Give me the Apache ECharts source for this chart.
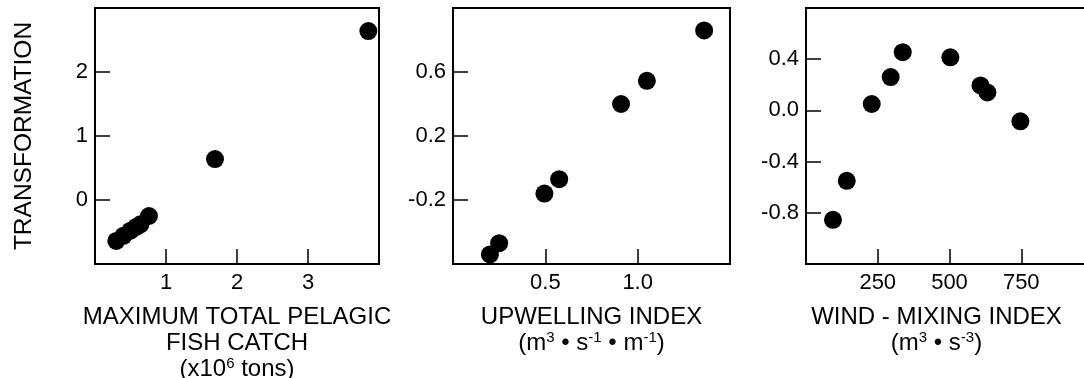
<!DOCTYPE html>
<html>
<head>
<meta charset="utf-8">
<script src="https://cdn.jsdelivr.net/npm/echarts@6/dist/echarts.min.js"></script>
<style>
  html, body { margin: 0; padding: 0; background: #fff; }
  #chart { width: 1084px; height: 378px; }
</style>
</head>
<body>
<div id="chart"></div>
<script>
// panel 1: maximum total pelagic fish catch (x10^6 tons)
var fishCatch = [0.30, 0.40, 0.50, 0.58, 0.64, 0.76, 1.69, 3.85];
var fishTrans = [-0.64, -0.56, -0.48, -0.42, -0.38, -0.25, 0.64, 2.64];
// panel 2: upwelling index
var upwelling = [0.20, 0.25, 0.495, 0.575, 0.91, 1.05, 1.36];
var upwellingTrans = [-0.54, -0.47, -0.16, -0.07, 0.40, 0.545, 0.86];
// panel 3: wind-mixing index
var windMixing = [94, 142, 229, 295, 337, 503, 608, 632, 747];
var windTrans = [-0.855, -0.55, 0.05, 0.26, 0.455, 0.415, 0.195, 0.14, -0.085];

var yTitle = 'TRANSFORMATION';
var xTitles = [
  'MAXIMUM TOTAL PELAGIC\nFISH CATCH\n(x10{sup|6} tons)',
  'UPWELLING INDEX\n(m{sup|3} \u2022 s{sup|-1} \u2022 m{sup|-1})',
  'WIND - MIXING INDEX\n(m{sup|3} \u2022 s{sup|-3})'
];

function pairs(xs, ys) {
  return xs.map(function (x, i) { return [x, ys[i]]; });
}

var font = '"Liberation Sans", Arial, Helvetica, sans-serif';
var richSup = { sup: { fontSize: 15, fontFamily: font, color: '#000', verticalAlign: 'top', lineHeight: 15 } };

function fmt1(v) {
  return (Math.abs(v) < 1e-9 ? 0 : v).toFixed(1);
}

var tick = { show: true, inside: true, length: 15, lineStyle: { color: '#000', width: 1.5 } };

// x axes sit "on zero" of a hidden 0..1 helper y axis, i.e. on the bottom edge
function xAxis(idx, min, max, interval, name, fmt, namePad) {
  return {
    type: 'value', gridIndex: idx, min: min, max: max, interval: interval,
    name: name, nameLocation: 'middle', nameGap: 40,
    nameTextStyle: { color: '#000', fontFamily: font, fontSize: 24, lineHeight: 26, rich: richSup, padding: namePad || 0 },
    axisLine: { show: true, onZero: true, onZeroAxisIndex: idx + 3, lineStyle: { color: '#000', width: 2 } },
    axisTick: tick,
    axisLabel: { color: '#000', fontFamily: font, fontSize: 22, margin: 8, showMinLabel: false, showMaxLabel: false, formatter: fmt },
    splitLine: { show: false }
  };
}

function yAxis(idx, min, max, interval, fmt, name) {
  return {
    type: 'value', gridIndex: idx, min: min, max: max, interval: interval,
    name: name || '', nameLocation: 'middle', nameGap: 58,
    nameTextStyle: { color: '#000', fontFamily: font, fontSize: 24.5 },
    axisLine: { show: true, lineStyle: { color: '#000', width: 2 } },
    axisTick: tick,
    axisLabel: { color: '#000', fontFamily: font, fontSize: 22, margin: 7, showMinLabel: false, showMaxLabel: false, formatter: fmt },
    splitLine: { show: false }
  };
}

function helperAxis(idx) {
  return { type: 'value', gridIndex: idx, min: 0, max: 1, show: false };
}

function scatter(idx, data) {
  return {
    type: 'scatter', xAxisIndex: idx, yAxisIndex: idx,
    data: data, symbol: 'circle', symbolSize: 18,
    itemStyle: { color: '#000', opacity: 1 }
  };
}

// roomy outer bounds so the multi-line axis names don't shrink the grids
var gridStyle = {
  show: true, borderColor: '#000', borderWidth: 2,
  outerBounds: { left: -300, right: -300, top: -300, bottom: -300 }
};

var myChart = echarts.init(document.getElementById('chart'));
myChart.setOption({
  backgroundColor: '#fff',
  animation: false,
  grid: [
    Object.assign({ left: 95, top: 8, width: 284, height: 256 }, gridStyle),
    Object.assign({ left: 453, top: 8, width: 277, height: 256 }, gridStyle),
    Object.assign({ left: 806, top: 8, width: 287, height: 256 }, gridStyle)
  ],
  xAxis: [
    xAxis(0, 0, 4, 1, xTitles[0], function (v) { return String(v); }),
    xAxis(1, 0, 1.5, 0.5, xTitles[1], fmt1),
    xAxis(2, 0, 1000, 250, xTitles[2], function (v) { return String(v); }, [0, 26, 0, 0])
  ],
  yAxis: [
    yAxis(0, -1, 3, 1, function (v) { return String(v); }, yTitle),
    yAxis(1, -0.6, 1.0, 0.4, fmt1),
    yAxis(2, -1.2, 0.8, 0.4, fmt1),
    helperAxis(0),
    helperAxis(1),
    helperAxis(2)
  ],
  series: [
    scatter(0, pairs(fishCatch, fishTrans)),
    scatter(1, pairs(upwelling, upwellingTrans)),
    scatter(2, pairs(windMixing, windTrans))
  ]
});
</script>
</body>
</html>
